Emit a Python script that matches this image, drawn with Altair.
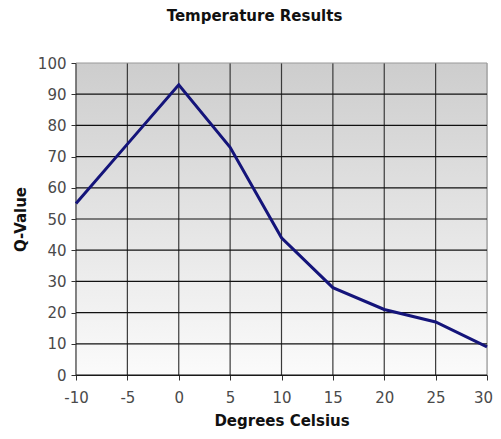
import altair as alt
import pandas as pd

temps = [-10, -5, 0, 5, 10, 15, 20, 25, 30]
q_values = [55, 74, 93, 73, 44, 28, 21, 17, 9]
x_ticks = [-10, -5, 0, 5, 10, 15, 20, 25, 30]
y_ticks = [0, 10, 20, 30, 40, 50, 60, 70, 80, 90, 100]

df = pd.DataFrame({"t": temps, "q": q_values})
bg = pd.DataFrame({"x0": [min(x_ticks)], "x1": [max(x_ticks)], "y0": [min(y_ticks)], "y1": [max(y_ticks)]})
xg = pd.DataFrame({"v": x_ticks})
yg = pd.DataFrame({"v": y_ticks})

FONT = "DejaVu Sans"

xscale = alt.Scale(domain=[-10, 30], nice=False)
yscale = alt.Scale(domain=[0, 100], nice=False)

xaxis = alt.Axis(
    values=x_ticks, title="Degrees Celsius", grid=False,
    labelExpr="'' + datum.value", labelFlush=False, labelOverlap=False,
    labelOffset=alt.condition("datum.value == 30", alt.value(-4), alt.value(0)),
    domainColor="#222222", domainWidth=1.2,
    tickColor="#333333", tickSize=5, labelFontSize=15, labelColor="#4a4a4a",
    labelFont=FONT, labelPadding=10, titleFont=FONT, titleFontSize=15,
    titleFontWeight="bold", titleColor="#111111", titlePadding=8,
)
yaxis = alt.Axis(
    values=y_ticks, title="Q-Value", grid=False,
    domainColor="#333333", domainWidth=1.2,
    tickColor="#333333", tickSize=5, labelFontSize=15, labelColor="#4a4a4a",
    labelFont=FONT, labelPadding=5, titleFont=FONT, titleFontSize=15,
    titleFontWeight="bold", titleColor="#111111", titlePadding=9,
)

grad = alt.Gradient(
    gradient="linear",
    stops=[alt.GradientStop(offset=0, color="#cdcdcd"), alt.GradientStop(offset=1, color="#fbfbfb")],
    x1=0, x2=0, y1=0, y2=1,
)

background = alt.Chart(bg).mark_rect(color=grad).encode(
    x=alt.X("x0:Q", scale=xscale, axis=xaxis),
    x2="x1:Q",
    y=alt.Y("y0:Q", scale=yscale, axis=yaxis),
    y2="y1:Q",
)

vgrid = alt.Chart(xg).mark_rule(strokeWidth=1.2).encode(
    x=alt.X("v:Q", scale=xscale, axis=xaxis),
    color=alt.condition("datum.v == 30", alt.value("#9a9a9a"), alt.value("#3a3a3a")),
)

hgrid = alt.Chart(yg).mark_rule(strokeWidth=1.2).encode(
    y=alt.Y("v:Q", scale=yscale, axis=yaxis),
    color=alt.condition("datum.v == 100", alt.value("#9a9a9a"), alt.value("#111111")),
)

line = alt.Chart(df).mark_line(color="#14147a", strokeWidth=3).encode(
    x=alt.X("t:Q", scale=xscale, axis=xaxis),
    y=alt.Y("q:Q", scale=yscale, axis=yaxis),
)

chart = alt.layer(background, vgrid, hgrid, line).properties(
    width=411, height=312,
    title=alt.TitleParams(
        "Temperature Results", font=FONT, fontSize=15, fontWeight="bold",
        color="#111111", anchor="middle", dx=-27, offset=32,
    ),
    autosize=alt.AutoSizeParams(type="none"),
    padding={"left": 68, "top": 55, "right": 6, "bottom": 56},
).configure_view(stroke=None).configure(background="white")

chart.save("out.html", embed_options={"renderer": "svg", "actions": False})
